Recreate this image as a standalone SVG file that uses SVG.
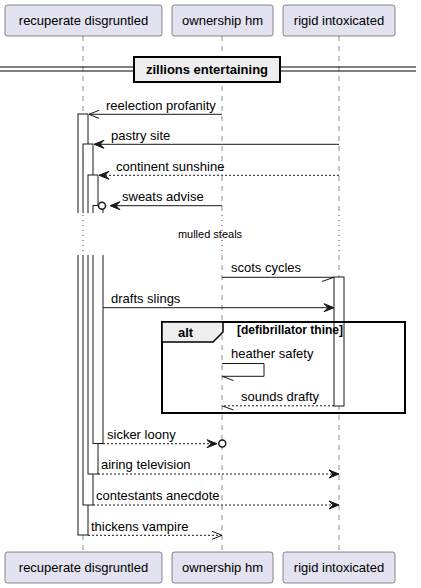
<svg xmlns="http://www.w3.org/2000/svg" width="421" height="588" viewBox="0 0 421 588">
<defs>
<style>
text{font-family:"Liberation Sans",Arial,sans-serif;fill:#000}
.pt{font-size:13px;text-anchor:middle}
.lbl{font-size:13px}
.pbox{fill:#E2E2F0;stroke:#181818;stroke-width:0.5}
.life{stroke:#181818;stroke-width:0.5;stroke-dasharray:5,5;fill:none}
.delay{stroke:#8B1A4A;stroke-width:1;stroke-dasharray:1,4;fill:none}
.act{fill:#fff;stroke:#181818;stroke-width:1}
.msg{stroke:#181818;stroke-width:1;fill:none}
.dash{stroke-dasharray:2,2}
.head{fill:#181818;stroke:#181818;stroke-width:1}
.bold{font-weight:bold}
</style>
</defs>
<rect width="421" height="588" fill="#fff"/>

<g id="lifelines">
<line class="life" x1="83" y1="36" x2="83" y2="213"/>
<line class="life" x1="83" y1="255" x2="83" y2="552"/>
<line class="life" x1="222" y1="36" x2="222" y2="213"/>
<line class="life" x1="222" y1="255" x2="222" y2="552"/>
<line class="life" x1="339" y1="36" x2="339" y2="213"/>
<line class="life" x1="339" y1="255" x2="339" y2="552"/>
</g>

<g id="p-recuperate">
<rect class="pbox" x="5" y="5" width="157" height="31" rx="2.5"/>
<text class="pt" x="83.5" y="25">recuperate disgruntled</text>
<rect class="pbox" x="5" y="552" width="157" height="31" rx="2.5"/>
<text class="pt" x="83.5" y="572">recuperate disgruntled</text>
</g>
<g id="p-ownership">
<rect class="pbox" x="172" y="5" width="101" height="31" rx="2.5"/>
<text class="pt" x="222.5" y="25">ownership hm</text>
<rect class="pbox" x="172" y="552" width="101" height="31" rx="2.5"/>
<text class="pt" x="222.5" y="572">ownership hm</text>
</g>
<g id="p-rigid">
<rect class="pbox" x="283" y="5" width="112" height="31" rx="2.5"/>
<text class="pt" x="339" y="25">rigid intoxicated</text>
<rect class="pbox" x="283" y="552" width="112" height="31" rx="2.5"/>
<text class="pt" x="339" y="572">rigid intoxicated</text>
</g>

<g id="divider">
<line x1="0" y1="67" x2="416" y2="67" stroke="#000" stroke-width="1"/>
<line x1="0" y1="71" x2="416" y2="71" stroke="#000" stroke-width="1"/>
<rect x="134" y="57" width="146" height="25" fill="#EEEEEE" stroke="#000" stroke-width="2"/>
<text class="lbl bold" x="207" y="74" text-anchor="middle">zillions entertaining</text>
</g>

<g id="activations">
<rect class="act" x="78" y="114" width="10" height="421"/>
<rect class="act" x="83" y="144" width="10" height="361"/>
<rect class="act" x="88" y="175" width="10" height="299"/>
<rect class="act" x="93" y="205.5" width="10" height="238"/>
<rect class="act" x="334" y="277" width="10" height="129"/>
</g>

<g id="delay">
<rect x="72" y="213" width="36" height="42" fill="#fff"/>
<line class="delay" x1="83" y1="215" x2="83" y2="255"/>
<line class="delay" x1="222" y1="215" x2="222" y2="255"/>
<line class="delay" x1="339" y1="215" x2="339" y2="255"/>
<text x="210" y="238" font-size="11" text-anchor="middle">mulled steals</text>
</g>

<g id="alt-frame">
<rect x="162" y="322" width="243" height="91" fill="none" stroke="#000" stroke-width="2"/>
<path d="M162,322 H223 V332 L213,342 H162 Z" fill="#EEEEEE" stroke="#000" stroke-width="1.5"/>
<text class="lbl bold" x="178" y="337">alt</text>
<text class="bold" x="237" y="334" font-size="12">[defibrillator thine]</text>
</g>

<g id="connectors">
<line class="msg" x1="222" y1="114.3" x2="89" y2="114.3"/>
<path class="msg" d="M99,110.3 L89,114.3 L99,118.3"/>
<text class="lbl" x="106" y="109.5">reelection profanity</text>

<line class="msg" x1="339" y1="144.3" x2="96" y2="144.3"/>
<polygon class="head" points="94,144.3 104,140.3 100,144.3 104,148.3"/>
<text class="lbl" x="111" y="139.5">pastry site</text>

<line class="msg dash" x1="339" y1="175.3" x2="101" y2="175.3"/>
<polygon class="head" points="99,175.3 109,171.3 105,175.3 109,179.3"/>
<text class="lbl" x="116" y="170.5">continent sunshine</text>

<line class="msg" x1="222" y1="205.7" x2="112" y2="205.7"/>
<polygon class="head" points="110,205.7 120,201.7 116,205.7 120,209.7"/>
<circle cx="102" cy="205.7" r="3.5" fill="#fff" stroke="#181818" stroke-width="1.5"/>
<text class="lbl" x="122" y="200.5">sweats advise</text>

<line class="msg" x1="222" y1="277.3" x2="334" y2="277.3"/>
<line class="msg" x1="334" y1="277.3" x2="322" y2="281.5"/>
<text class="lbl" x="231" y="272">scots cycles</text>

<line class="msg" x1="103" y1="307.7" x2="332" y2="307.7"/>
<polygon class="head" points="334,307.7 324,303.7 328,307.7 324,311.7"/>
<text class="lbl" x="111" y="302.5">drafts slings</text>

<path class="msg" d="M222,363.5 H264 V376.3 H222"/>
<line class="msg" x1="222" y1="376.3" x2="233.5" y2="380.5"/>
<text class="lbl" x="231" y="358">heather safety</text>

<line class="msg dash" x1="334" y1="405.8" x2="222" y2="405.8"/>
<line class="msg" x1="222" y1="405.8" x2="233.5" y2="410"/>
<text class="lbl" x="241" y="401">sounds drafty</text>

<line class="msg dash" x1="103" y1="443.7" x2="210" y2="443.7"/>
<polygon class="head" points="217,443.7 207,439.7 211,443.7 207,447.7"/>
<circle cx="222.3" cy="443.5" r="3.5" fill="#fff" stroke="#181818" stroke-width="1.5"/>
<text class="lbl" x="107" y="438.5">sicker loony</text>

<line class="msg dash" x1="98" y1="474" x2="336" y2="474"/>
<polygon class="head" points="339,474 329,470 333,474 329,478"/>
<text class="lbl" x="101" y="469">airing television</text>

<line class="msg dash" x1="93" y1="505" x2="336" y2="505"/>
<polygon class="head" points="339,505 329,501 333,505 329,509"/>
<text class="lbl" x="96" y="500">contestants anecdote</text>

<line class="msg dash" x1="88" y1="535.3" x2="222" y2="535.3"/>
<path class="msg" d="M212,531.3 L222,535.3 L212,539.3"/>
<text class="lbl" x="91" y="530.5">thickens vampire</text>
</g>
</svg>
